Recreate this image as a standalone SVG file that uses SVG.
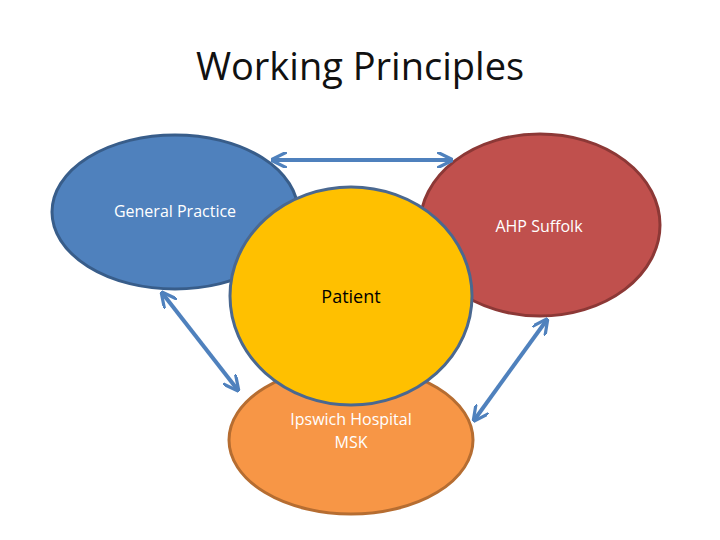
<svg xmlns="http://www.w3.org/2000/svg" width="720" height="540" viewBox="0 0 720 540">
<style>
text{font-family:"Open Sans","Liberation Sans",sans-serif;text-anchor:middle}
.lbl{fill:#fff;font-size:16px}
.arr{stroke:#4f81bd;stroke-width:4;fill:none;marker-start:url(#ah);marker-end:url(#ah)}
.ell{stroke-width:3}
</style>
<defs>
<marker id="ah" viewBox="0 0 10 10" refX="8" refY="5" markerWidth="4" markerHeight="4" orient="auto-start-reverse" markerUnits="strokeWidth">
<path d="M0,0 L10,5 L0,10" fill="none" stroke="#4f81bd" stroke-width="2"/>
</marker>
</defs>
<rect width="720" height="540" fill="#fff"/>
<text x="360" y="80" font-size="38" fill="#111">Working Principles</text>
<g id="general-practice">
<ellipse class="ell" cx="175" cy="212" rx="123" ry="77" fill="#4f81bd" stroke="#385d8a"/>
<text class="lbl" x="175" y="217">General Practice</text>
</g>
<g id="ahp-suffolk">
<ellipse class="ell" cx="540" cy="225" rx="120" ry="91" fill="#c0504d" stroke="#8c3836"/>
<text class="lbl" x="539" y="232">AHP Suffolk</text>
</g>
<g id="ipswich">
<ellipse class="ell" cx="351" cy="440" rx="122" ry="74" fill="#f79646" stroke="#b66d31"/>
<text class="lbl" x="351" y="425">Ipswich Hospital</text>
<text class="lbl" x="351" y="448">MSK</text>
</g>
<g id="patient">
<ellipse class="ell" cx="351" cy="296" rx="121" ry="109" fill="#ffc000" stroke="#4a6890"/>
<text x="351" y="303" font-size="18" fill="#000">Patient</text>
</g>
<g id="connectors">
<line class="arr" x1="274" y1="160" x2="450" y2="160"/>
<line class="arr" x1="163" y1="294" x2="237" y2="389"/>
<line class="arr" x1="546" y1="321" x2="475" y2="419"/>
</g>
</svg>
